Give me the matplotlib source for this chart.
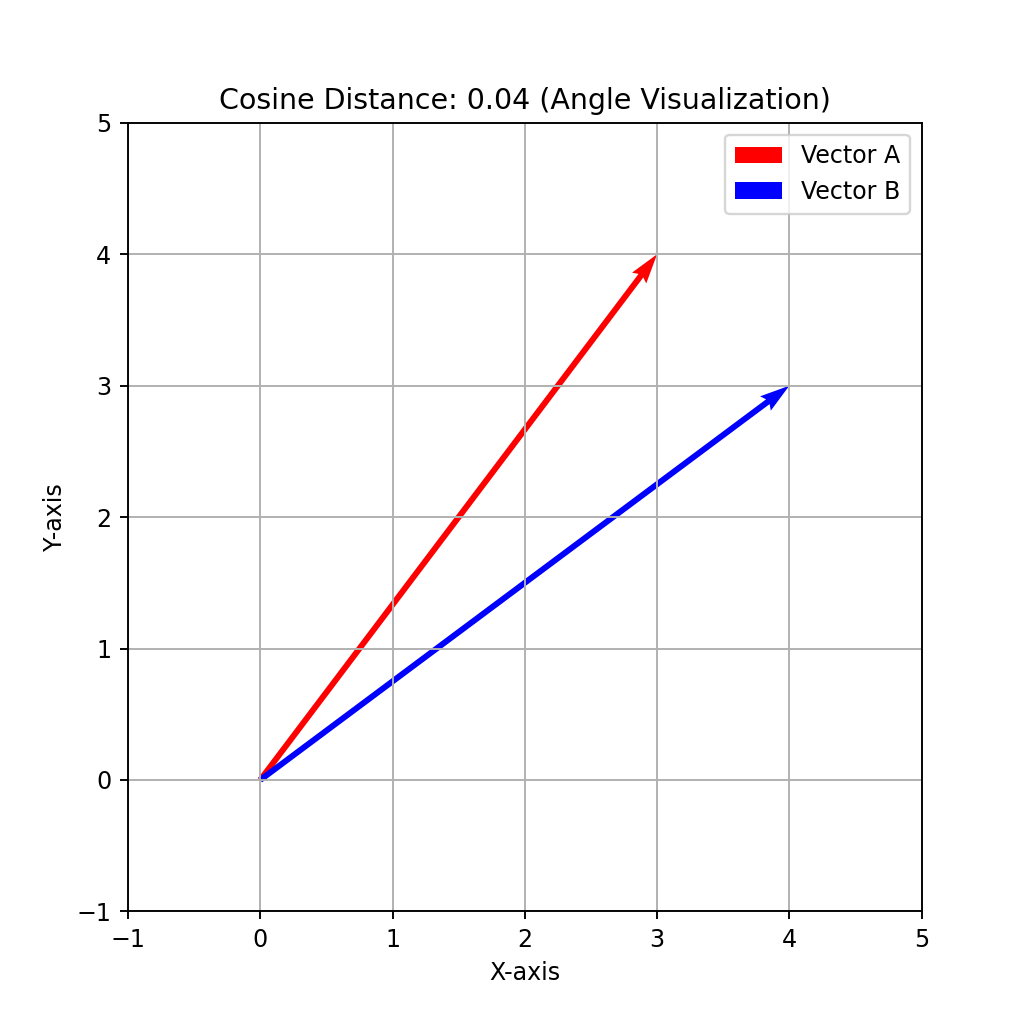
import matplotlib.pyplot as plt

# vectors
vector_names = ['Vector A', 'Vector B']
vector_x = [3, 4]
vector_y = [4, 3]
vector_colors = ['r', 'b']
cos_dist = 0.04

fig, ax = plt.subplots(figsize=(6, 6), dpi=1024 / 6)

for name, vx, vy, c in zip(vector_names, vector_x, vector_y, vector_colors):
    ax.quiver(0, 0, vx, vy, angles='xy', scale_units='xy', scale=1, color=c, label=name)

ax.set_xlim(-1, 5)
ax.set_ylim(-1, 5)
ax.set_xlabel('X-axis')
ax.set_ylabel('Y-axis')
ax.set_title(f'Cosine Distance: {cos_dist:.2f} (Angle Visualization)')
ax.grid(True)
ax.legend()

plt.savefig('out.png')
